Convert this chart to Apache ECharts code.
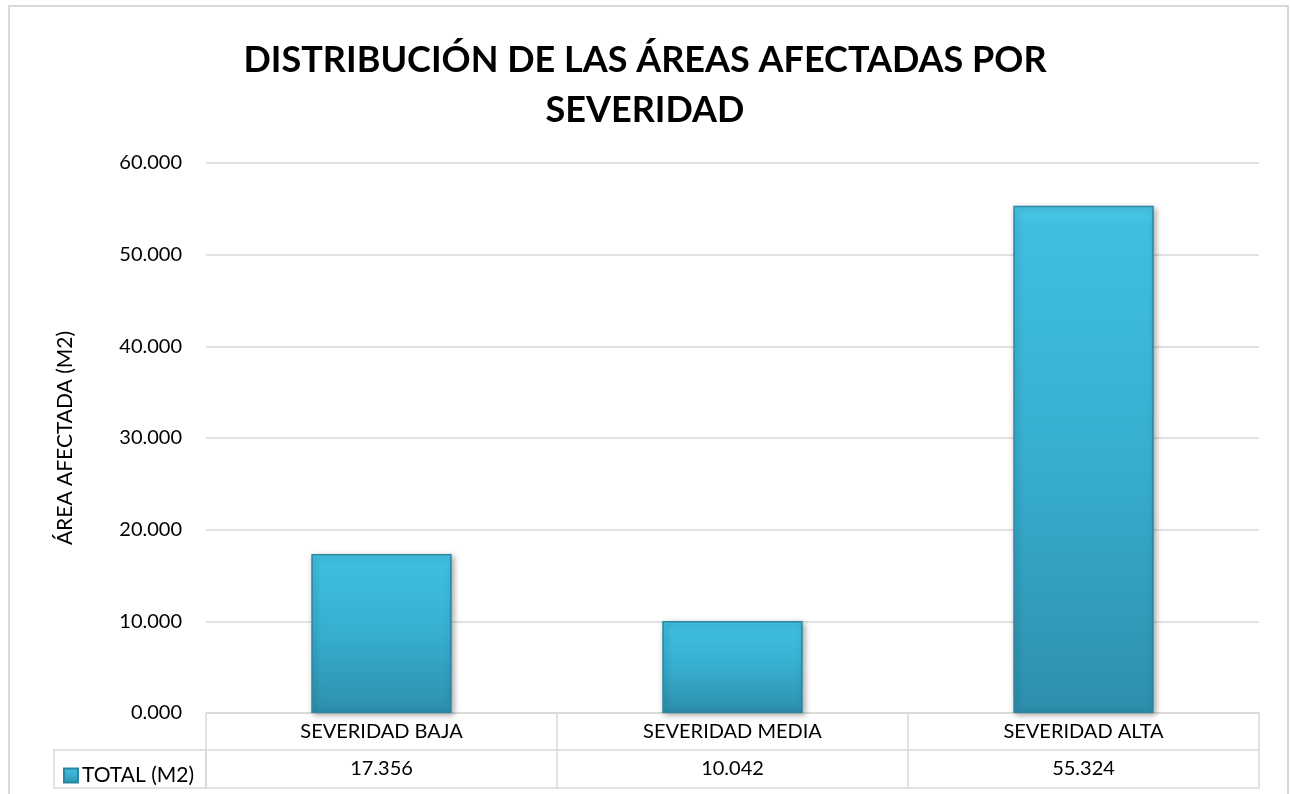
<!DOCTYPE html>
<html>
<head>
<meta charset="utf-8">
<script src="https://cdn.jsdelivr.net/npm/echarts@6/dist/echarts.min.js"></script>
<style>
  html, body { margin: 0; padding: 0; background: #fff; }
  #chart { width: 1290px; height: 794px; }
</style>
</head>
<body>
<div id="chart"></div>
<script>
// datos del gráfico
const categorias = ['SEVERIDAD BAJA', 'SEVERIDAD MEDIA', 'SEVERIDAD ALTA']
const totales = [17.356, 10.042, 55.324]
const serieNombre = 'TOTAL (M2)'
const ejeY = { min: 0, max: 60, interval: 10 }

const fuente = 'Lato, "Open Sans", sans-serif'
const gris = '#d9d9d9'

const chart = echarts.init(document.getElementById('chart'))

const option = {
  animation: false,
  textStyle: { fontFamily: fuente },
  title: {
    text: 'DISTRIBUCIÓN DE LAS ÁREAS AFECTADAS POR\nSEVERIDAD',
    left: 'center',
    top: 30,
    textStyle: {
      fontFamily: fuente,
      fontSize: 36,
      fontWeight: 'bold',
      color: '#000',
      lineHeight: 50,
      align: 'center'
    }
  },
  legend: {
    data: [serieNombre],
    left: 58,
    top: 760,
    icon: 'rect',
    itemWidth: 14,
    itemHeight: 14,
    itemGap: 4,
    textStyle: { fontFamily: fuente, fontSize: 21, color: '#000', padding: [0, 0, 0, -1] }
  },
  grid: { left: 206, right: 31, top: 163, bottom: 81 },
  xAxis: [
    {
      type: 'category',
      data: categorias,
      axisLine: { show: true, lineStyle: { color: gris, width: 1.5 } },
      axisTick: { show: true, length: 75, lineStyle: { color: gris, width: 1.5 } },
      axisLabel: {
        margin: 0,
        interval: 0,
        formatter: (v, i) => '{a|' + v + '}\n{b|' + totales[i].toFixed(3) + '}',
        rich: {
          a: { fontFamily: fuente, fontSize: 20, color: '#000', lineHeight: 37, height: 37 },
          b: { fontFamily: fuente, fontSize: 20, color: '#000', lineHeight: 37, height: 37 }
        }
      }
    },
    {
      type: 'category',
      data: categorias,
      position: 'bottom',
      offset: 37,
      axisLine: { show: true, lineStyle: { color: gris, width: 1.5 } },
      axisTick: { show: false },
      axisLabel: { show: false }
    },
    {
      type: 'category',
      data: categorias,
      position: 'bottom',
      offset: 75,
      axisLine: { show: true, lineStyle: { color: gris, width: 1.5 } },
      axisTick: { show: false },
      axisLabel: { show: false }
    }
  ],
  yAxis: {
    type: 'value',
    min: ejeY.min,
    max: ejeY.max,
    interval: ejeY.interval,
    name: 'ÁREA AFECTADA (M2)',
    nameLocation: 'middle',
    nameGap: 130,
    nameTextStyle: { fontFamily: fuente, fontSize: 21, color: '#000' },
    axisLine: { show: false },
    axisTick: { show: false },
    axisLabel: {
      margin: 24,
      fontSize: 20,
      color: '#000',
      formatter: (v) => v.toFixed(3)
    },
    splitLine: { lineStyle: { color: gris, width: 1.5 } }
  },
  series: [
    {
      name: serieNombre,
      type: 'bar',
      data: totales,
      barWidth: '40%',
      itemStyle: {
        color: new echarts.graphic.LinearGradient(0, 0, 0, 1, [
          { offset: 0, color: '#4cc8ea' },
          { offset: 0.04, color: '#3fbfe2' },
          { offset: 0.5, color: '#37aed0' },
          { offset: 1, color: '#2d8fac' }
        ]),
        borderColor: '#2a86a2',
        borderWidth: 1.5,
        shadowBlur: 6,
        shadowColor: 'rgba(0,0,0,0.35)',
        shadowOffsetX: 2,
        shadowOffsetY: 2
      }
    }
  ],
  graphic: [
    // marco exterior
    {
      type: 'rect',
      shape: { x: 9, y: 6, width: 1279, height: 800 },
      style: { fill: 'none', stroke: gris, lineWidth: 2 },
      silent: true
    },
    // celda de la leyenda en la tabla
    {
      type: 'rect',
      shape: { x: 54, y: 750, width: 152, height: 38 },
      style: { fill: 'none', stroke: gris, lineWidth: 1.5 },
      silent: true
    }
  ]
}

chart.setOption(option)
</script>
</body>
</html>
